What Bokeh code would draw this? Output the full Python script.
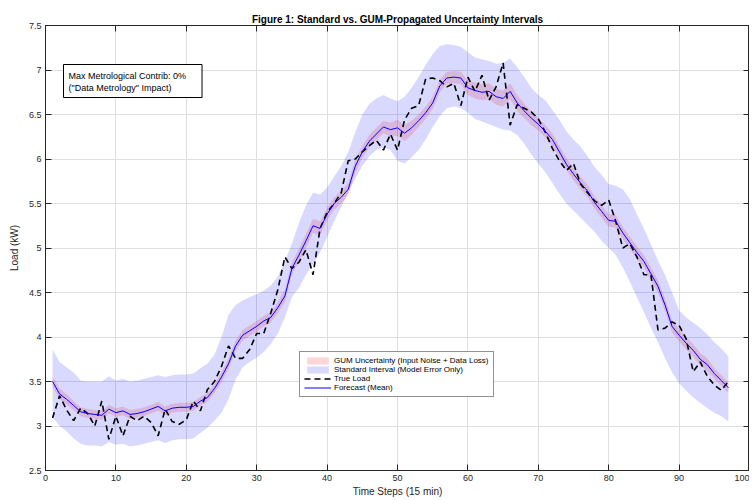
import numpy as np
from bokeh.plotting import figure
from bokeh.models import (ColumnDataSource, Legend, LegendItem, Label, LinearAxis,
                          Range1d, FixedTicker, CustomLabelingPolicy)
from bokeh.embed import file_html
from bokeh.resources import INLINE

# ---------------- data ----------------
steps = list(range(1, 98))

forecast_mean = [
    3.50, 3.36, 3.30, 3.23, 3.16, 3.14, 3.13, 3.12, 3.19, 3.15,
    3.17, 3.13, 3.14, 3.16, 3.19, 3.22, 3.17, 3.20, 3.21, 3.21,
    3.22, 3.28, 3.32, 3.42, 3.55, 3.70, 3.90, 4.02, 4.07, 4.12,
    4.18, 4.22, 4.33, 4.46, 4.77, 4.92, 5.08, 5.25, 5.22, 5.38,
    5.50, 5.57, 5.66, 5.92, 6.08, 6.20, 6.28, 6.36, 6.33, 6.35,
    6.29, 6.35, 6.43, 6.52, 6.63, 6.82, 6.91, 6.92, 6.91, 6.80,
    6.77, 6.75, 6.76, 6.70, 6.68, 6.76, 6.63, 6.54, 6.46, 6.39,
    6.31, 6.22, 6.08, 5.94, 5.83, 5.73, 5.64, 5.51, 5.41, 5.31,
    5.30, 5.17, 5.06, 4.95, 4.85, 4.71, 4.57, 4.36, 4.12, 4.02,
    3.93, 3.85, 3.75, 3.69, 3.59, 3.51, 3.43,
]

true_load = [
    3.09, 3.34, 3.18, 3.06, 3.20, 3.14, 3.00, 3.28, 2.85, 3.11,
    2.89, 3.11, 3.06, 3.11, 3.04, 2.89, 3.19, 3.05, 3.02, 3.07,
    3.28, 3.17, 3.41, 3.50, 3.67, 3.90, 3.76, 3.76, 3.86, 4.04,
    4.04, 4.27, 4.53, 4.90, 4.77, 4.84, 4.98, 4.70, 5.22, 5.40,
    5.50, 5.62, 5.98, 6.00, 6.08, 6.15, 6.21, 6.10, 6.28, 6.10,
    6.44, 6.57, 6.60, 6.90, 6.91, 6.88, 6.81, 6.85, 6.60, 6.92,
    6.76, 6.94, 6.66, 6.81, 7.08, 6.38, 6.61, 6.57, 6.53, 6.45,
    6.30, 6.12, 5.98, 5.87, 5.95, 5.72, 5.62, 5.53, 5.48, 5.54,
    5.30, 5.00, 5.05, 4.90, 4.70, 4.70, 4.08, 4.10, 4.17, 4.13,
    3.98, 3.61, 3.72, 3.56, 3.46, 3.40, 3.50,
]

std_upper = [
    3.86, 3.72, 3.66, 3.60, 3.51, 3.50, 3.50, 3.50, 3.56, 3.51,
    3.53, 3.50, 3.51, 3.53, 3.55, 3.57, 3.55, 3.57, 3.58, 3.58,
    3.59, 3.65, 3.70, 3.80, 4.00, 4.25, 4.36, 4.41, 4.45, 4.48,
    4.52, 4.58, 4.68, 4.85, 5.05, 5.28, 5.48, 5.62, 5.60, 5.68,
    5.80, 5.92, 6.08, 6.30, 6.50, 6.62, 6.68, 6.72, 6.68, 6.65,
    6.70, 6.80, 6.92, 7.06, 7.18, 7.27, 7.29, 7.28, 7.26, 7.20,
    7.14, 7.12, 7.10, 7.07, 7.08, 7.13, 7.03, 6.92, 6.80, 6.72,
    6.66, 6.55, 6.44, 6.31, 6.22, 6.14, 6.03, 5.91, 5.82, 5.72,
    5.70, 5.66, 5.55, 5.38, 5.22, 5.04, 4.86, 4.70, 4.50, 4.30,
    4.22, 4.16, 4.10, 4.03, 3.94, 3.87, 3.78,
]

std_lower = [
    3.10, 3.00, 2.94, 2.86, 2.80, 2.78, 2.78, 2.77, 2.82, 2.79,
    2.80, 2.77, 2.78, 2.80, 2.82, 2.84, 2.81, 2.84, 2.85, 2.85,
    2.86, 2.92, 2.98, 3.06, 3.15, 3.30, 3.52, 3.66, 3.72, 3.77,
    3.83, 3.92, 4.04, 4.22, 4.45, 4.55, 4.70, 4.82, 4.95, 5.12,
    5.30, 5.46, 5.62, 5.78, 5.92, 6.03, 6.10, 6.13, 6.10, 5.98,
    5.95, 6.02, 6.10, 6.22, 6.36, 6.48, 6.57, 6.59, 6.57, 6.52,
    6.45, 6.42, 6.39, 6.36, 6.33, 6.32, 6.27, 6.17, 6.05, 5.95,
    5.85, 5.73, 5.61, 5.50, 5.42, 5.34, 5.26, 5.18, 5.08, 5.00,
    4.92, 4.78, 4.62, 4.45, 4.28, 4.10, 3.94, 3.76, 3.60, 3.48,
    3.40, 3.32, 3.26, 3.20, 3.15, 3.11, 3.05,
]

gum_halfwidth = [
    0.06, 0.06, 0.06, 0.05, 0.05, 0.05, 0.05, 0.05, 0.05, 0.05,
    0.05, 0.05, 0.05, 0.05, 0.05, 0.05, 0.05, 0.05, 0.05, 0.05,
    0.05, 0.05, 0.05, 0.05, 0.06, 0.06, 0.06, 0.06, 0.06, 0.06,
    0.06, 0.06, 0.06, 0.07, 0.07, 0.07, 0.08, 0.08, 0.08, 0.07,
    0.07, 0.07, 0.07, 0.07, 0.07, 0.07, 0.07, 0.07, 0.08, 0.09,
    0.09, 0.08, 0.07, 0.07, 0.07, 0.07, 0.07, 0.07, 0.07, 0.08,
    0.09, 0.09, 0.09, 0.09, 0.09, 0.09, 0.09, 0.08, 0.08, 0.07,
    0.07, 0.07, 0.07, 0.07, 0.07, 0.07, 0.07, 0.07, 0.07, 0.07,
    0.07, 0.07, 0.07, 0.07, 0.07, 0.07, 0.07, 0.07, 0.07, 0.07,
    0.07, 0.07, 0.07, 0.07, 0.06, 0.06, 0.06,
]

x_ticks = [0, 10, 20, 30, 40, 50, 60, 70, 80, 90, 100]
y_ticks = [2.5, 3, 3.5, 4, 4.5, 5, 5.5, 6, 6.5, 7, 7.5]
y_tick_labels = ["2.5", "3", "3.5", "4", "4.5", "5", "5.5", "6", "6.5", "7", "7.5"]

title_text = "Figure 1: Standard vs. GUM-Propagated Uncertainty Intervals"
annot_text = "Max Metrological Contrib: 0%\n(\"Data Metrology\" Impact)"

# ---------------- figure ----------------
FONT = "Liberation Sans"
AX = "#262626"

mean_arr = np.array(forecast_mean)
gum_arr = np.array(gum_halfwidth)
src = ColumnDataSource(dict(
    x=steps, mean=forecast_mean, true=true_load,
    su=std_upper, sl=std_lower,
    gu=list(mean_arr + gum_arr), gl=list(mean_arr - gum_arr),
))

p = figure(width=749, height=489, output_backend="svg", toolbar_location=None,
           x_range=Range1d(0, 100), y_range=Range1d(2.5, 7.5),
           min_border_left=45, min_border_right=0, min_border_top=4,
           min_border_bottom=4, background_fill_color="white",
           border_fill_color="white", outline_line_color=AX)
p.margin = (10, 0, 0, 0)

p.title.text = title_text
p.title.text_font = FONT
p.title.text_font_size = "10px"
p.title.text_font_style = "bold"
p.title.text_color = "black"
p.title.align = "center"
p.title.standoff = 2

gum_r = p.varea(x="x", y1="gl", y2="gu", source=src, fill_color="#ff0000", fill_alpha=0.16)
std_r = p.varea(x="x", y1="sl", y2="su", source=src, fill_color="#0000ff", fill_alpha=0.15)
true_r = p.line(x="x", y="true", source=src, line_color="black", line_width=1.6,
                line_dash="6 4")
mean_r = p.line(x="x", y="mean", source=src, line_color="#0000ff", line_width=1)

# axes
for ax in (p.xaxis[0], p.yaxis[0]):
    ax.axis_line_color = AX
    ax.major_tick_line_color = AX
    ax.major_tick_in = 6
    ax.major_tick_out = 0
    ax.minor_tick_line_color = None
    ax.major_label_text_font = FONT
    ax.major_label_text_font_size = "9px"
    ax.major_label_text_color = AX
    ax.axis_label_text_font = FONT
    ax.axis_label_text_font_size = "10px"
    ax.axis_label_text_font_style = "normal"
    ax.axis_label_text_color = AX
    ax.major_label_standoff = 4

p.xaxis[0].ticker = FixedTicker(ticks=x_ticks)
p.yaxis[0].ticker = FixedTicker(ticks=y_ticks)
p.yaxis[0].major_label_overrides = {t: s for t, s in zip(y_ticks, y_tick_labels)}
p.xaxis[0].axis_label = "Time Steps (15 min)"
p.yaxis[0].axis_label = "Load (kW)"
p.xaxis[0].axis_label_standoff = 2
p.yaxis[0].axis_label_standoff = 6

# box ticks on top/right (no labels)
no_labels = "for (const i of indices) indices.unset(i); return indices"
top_ax = LinearAxis(ticker=FixedTicker(ticks=x_ticks), major_tick_in=6, major_tick_out=0,
                    major_label_policy=CustomLabelingPolicy(code=no_labels),
                    major_label_text_font_size="0px", major_label_standoff=0,
                    axis_line_color=AX, major_tick_line_color=AX,
                    minor_tick_line_color=None)
right_ax = LinearAxis(ticker=FixedTicker(ticks=y_ticks), major_tick_in=6, major_tick_out=0,
                      major_label_policy=CustomLabelingPolicy(code=no_labels),
                      major_label_text_font_size="0px", major_label_standoff=0,
                      axis_line_color=AX, major_tick_line_color=AX,
                      minor_tick_line_color=None)
p.add_layout(top_ax, "above")
p.add_layout(right_ax, "right")

p.xgrid.ticker = FixedTicker(ticks=x_ticks)
p.ygrid.ticker = FixedTicker(ticks=y_ticks)
p.grid.grid_line_color = "#dfdfdf"
p.grid.grid_line_width = 1

# legend
legend = Legend(items=[
    LegendItem(label="GUM Uncertainty (Input Noise + Data Loss)", renderers=[gum_r]),
    LegendItem(label="Standard Interval (Model Error Only)", renderers=[std_r]),
    LegendItem(label="True Load", renderers=[true_r]),
    LegendItem(label="Forecast (Mean)", renderers=[mean_r]),
], location=(254, 73), orientation="vertical")
legend.label_text_font = FONT
legend.label_text_font_size = "8px"
legend.label_text_color = "black"
legend.glyph_width = 27
legend.glyph_height = 9
legend.label_height = 9
legend.label_standoff = 3
legend.spacing = 0
legend.padding = 4
legend.margin = 0
legend.border_line_color = AX
legend.border_line_width = 1
legend.background_fill_color = "white"
legend.background_fill_alpha = 1
p.add_layout(legend)

# annotation box
lbl = Label(x=18, y=406, x_units="screen", y_units="screen", text=annot_text,
            text_align="left", text_baseline="top", text_font=FONT,
            text_font_size="9px", text_color="black",
            border_line_color="black", border_line_width=1,
            background_fill_color="white", padding=(5, 16, 6, 5))
p.add_layout(lbl)

open("out.html", "w").write(file_html(p, INLINE))
